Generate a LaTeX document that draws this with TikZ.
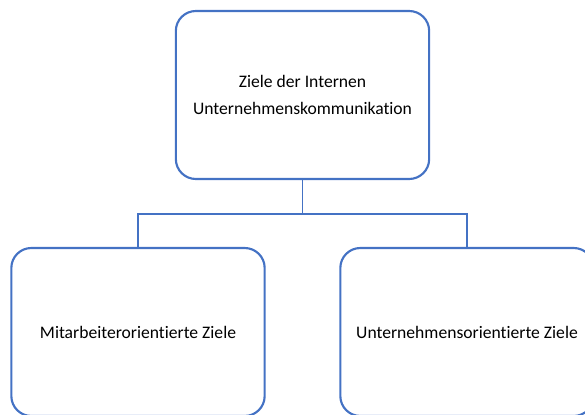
\documentclass[tikz,border=0pt]{standalone}
\usepackage{fontspec}
\setmainfont{Carlito}[Ligatures=NoCommon]
\usepackage{tikz}
\usetikzlibrary{positioning}
\definecolor{officeblue}{RGB}{68,114,196}

\begin{document}
\begin{tikzpicture}[
    x=0.75pt, y=-0.75pt,
    box/.style={draw=officeblue, rounded corners=15pt, line width=1.6pt, minimum width=190pt, minimum height=126pt, align=center, font=\fontsize{13.2}{20.3}\selectfont},
    conn/.style={draw=officeblue, line width=1.2pt},
]
\useasboundingbox (0,0) rectangle (585,414);
\clip (0,0) rectangle (585,414);

% ─────────────────────────────────────────
% Top: goal box
% ─────────────────────────────────────────
\node[box] (ziele) at (302.5,95) {Ziele der Internen\\Unternehmenskommunikation};

% ─────────────────────────────────────────
% Bottom: the two kinds of goals
% ─────────────────────────────────────────
\node[box] (mitarb) at (138,332) {Mitarbeiterorientierte Ziele};
\node[box] (untern) at (467,332) {Unternehmensorientierte Ziele};

% Connectors
\draw[conn] (ziele.south) -- ++(0,34) coordinate (fork);
\draw[conn] (fork) -| (mitarb.north);
\draw[conn] (fork) -| (untern.north);

\end{tikzpicture}
\end{document}
